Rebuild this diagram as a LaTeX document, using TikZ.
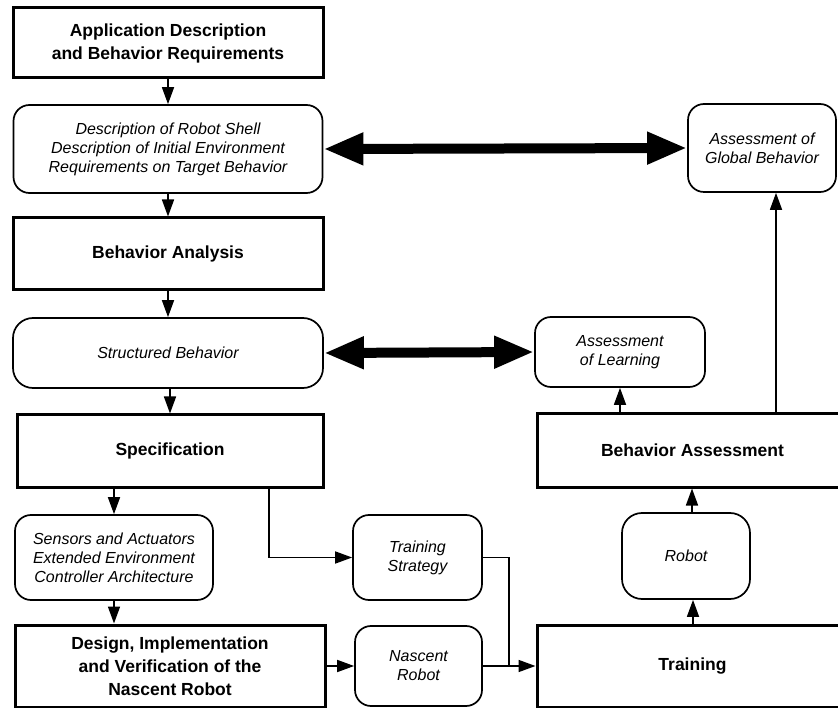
\documentclass[tikz,border=0pt]{standalone}
\usepackage{fontspec}
\setmainfont{Liberation Sans}
\usetikzlibrary{arrows.meta}
\begin{document}
\begin{tikzpicture}[x=1pt,y=-1pt,
  bbox/.style={draw,line width=3pt,inner sep=0pt,align=center,font=\fontsize{17.5}{23}\selectfont\bfseries},
  rbox/.style={draw,line width=1.7pt,rounded corners=16pt,inner sep=0pt,align=center,font=\fontsize{16}{19}\selectfont\itshape},
  arr/.style={line width=1.6pt,-{Triangle[length=17pt,width=12pt]}},
  link/.style={line width=1.6pt},
  big/.style={line width=10pt,{Triangle[length=40pt,width=30pt]}-{Triangle[length=40pt,width=30pt]}}]
\clip (0,0) rectangle (838,708);
% left column
\node[bbox,minimum width=310pt,minimum height=70pt] (app) at (168,43) {Application Description\\and Behavior Requirements};
\node[rbox,minimum width=309pt,minimum height=88pt] (desc) at (168,149) {Description of Robot Shell\\Description of Initial Environment\\Requirements on Target Behavior};
\node[bbox,minimum width=310pt,minimum height=72pt] (ana) at (168,254) {Behavior Analysis};
\node[rbox,minimum width=310pt,minimum height=70pt,rounded corners=20pt] (struct) at (168,353) {Structured Behavior};
\node[bbox,minimum width=306pt,minimum height=72pt] (spec) at (170,451) {Specification};
\node[rbox,minimum width=198pt,minimum height=85pt] (sens) at (114,557.5) {Sensors and Actuators\\Extended Environment\\Controller Architecture};
\node[bbox,minimum width=310pt,minimum height=82pt] (design) at (170,666) {Design, Implementation\\and Verification of the\\Nascent Robot};
% middle column
\node[rbox,minimum width=129pt,minimum height=85pt] (strat) at (417.5,557.5) {Training\\Strategy};
\node[rbox,minimum width=127pt,minimum height=80pt] (nasc) at (418.5,666) {Nascent\\Robot};
% right column
\node[bbox,minimum width=311pt,minimum height=82pt] (train) at (692.5,666) {Training};
\node[rbox,minimum width=128pt,minimum height=86pt,rounded corners=20pt] (robot) at (686,556) {Robot};
\node[bbox,minimum width=311pt,minimum height=73pt] (bass) at (692.5,450.5) {Behavior Assessment};
\node[rbox,minimum width=170pt,minimum height=70pt] (learn) at (620,352) {Assessment\\of Learning};
\node[rbox,minimum width=148pt,minimum height=88pt] (glob) at (762,148) {Assessment of\\Global Behavior};
\coordinate (jn) at (509,666);
% connectors
\draw[arr] (app.south) -- (desc.north);
\draw[arr] (desc.south) -- (ana.north);
\draw[arr] (ana.south) -- (struct.north);
\draw[arr] (struct.south -| spec.south) -- (spec.north);
\draw[arr] (sens.north |- spec.south) -- (sens.north);
\draw[arr] (sens.south) -- (sens.south |- design.north);
\draw[arr] ([xshift=99pt]spec.south) |- (strat.west);
\draw[arr] (design.east) -- (nasc.west);
\draw[link] (strat.east) -| (jn);
\draw[arr] (nasc.east) -- (train.west);
\draw[arr] ([xshift=7pt]robot.south |- train.north) -- ([xshift=7pt]robot.south);
\draw[arr] ([xshift=6pt]robot.north) -- ([xshift=6pt]robot.north |- bass.south);
\draw[arr] (learn.south |- bass.north) -- (learn.south);
\draw[arr] ([xshift=14pt]glob.south |- bass.north) -- ([xshift=14pt]glob.south);
\draw[big] (desc.east) -- (glob.west);
\draw[big] (struct.east) -- (learn.west);
\end{tikzpicture}
\end{document}
